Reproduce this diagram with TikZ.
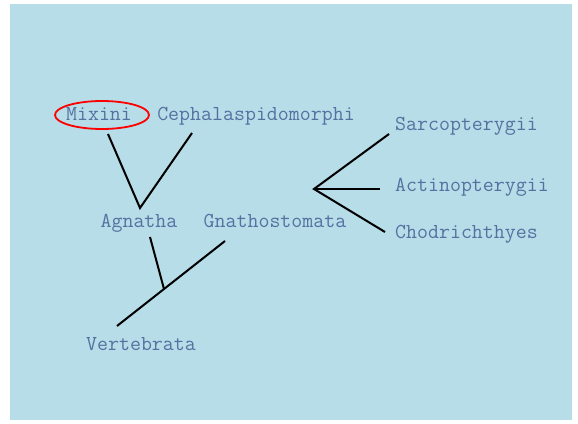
\documentclass[tikz,border=0pt]{standalone}
\usepackage{fontspec}
\definecolor{bgblue}{RGB}{182,221,232}
\definecolor{txtblue}{RGB}{84,114,160}
\begin{document}
\begin{tikzpicture}[x=1pt,y=-1pt,
  taxon/.style={font=\ttfamily\fontsize{21.3}{23}\selectfont, text=txtblue, inner sep=0pt, anchor=base},
  branch/.style={line width=2pt, black}]
\useasboundingbox (0,0) rectangle (578,423);
\fill[bgblue] (10,4) rectangle (572,420);
% labels
\node[taxon] (mix) at (99,120) {Mixini};
\node[taxon] (ceph) at (256,120) {Cephalaspidomorphi};
\node[taxon] (agn) at (139,227) {Agnatha};
\node[taxon] (gna) at (275,227) {Gnathostomata};
\node[taxon] (ver) at (141,350) {Vertebrata};
\node[taxon, anchor=base west] (sar) at (395,130) {Sarcopterygii};
\node[taxon, anchor=base west] (act) at (395,191) {Actinopterygii};
\node[taxon, anchor=base west] (cho) at (395,238) {Chodrichthyes};
% highlight
\draw[red, line width=1.8pt] (102,115) ellipse [x radius=47, y radius=14];
% branch points
\coordinate (mixe) at (108,134);
\coordinate (cephe) at (192,133);
\coordinate (agnj) at (140,208);
\coordinate (agne) at (150,237);
\coordinate (vj) at (164,289);
\coordinate (gnae) at (225,241);
\coordinate (vere) at (117,326);
\coordinate (fj) at (314,189);
\coordinate (sare) at (389,134);
\coordinate (acte) at (380,189);
\coordinate (choe) at (385,232);
\draw[branch] (mixe) -- (agnj) -- (cephe);
\draw[branch] (agne) -- (vj);
\draw[branch] (gnae) -- (vere);
\draw[branch] (sare) -- (fj) -- (choe);
\draw[branch] (fj) -- (acte);
\end{tikzpicture}
\end{document}
